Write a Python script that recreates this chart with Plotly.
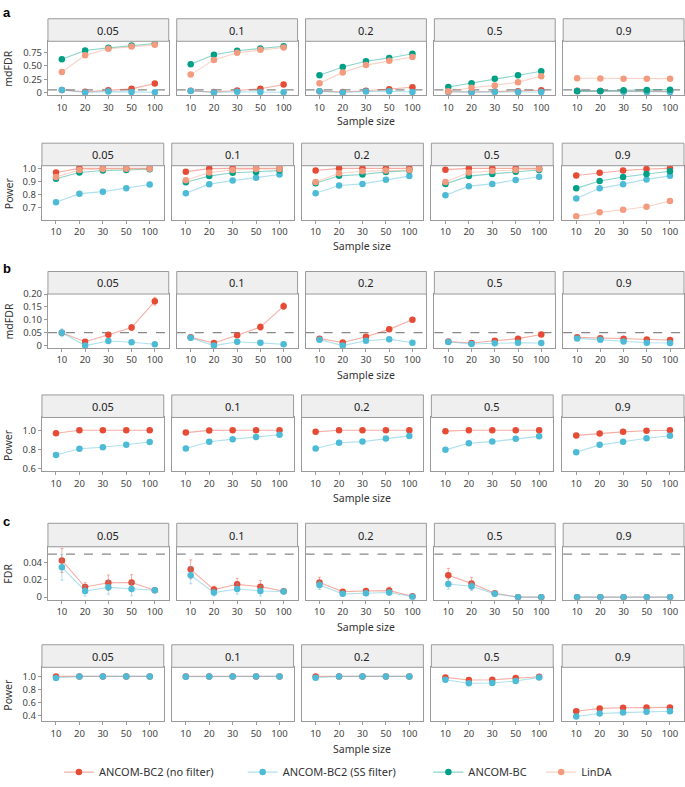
import plotly.graph_objects as go

W, H = 685, 787

SAMPLE_SIZES = ["10", "20", "30", "50", "100"]
PREVALENCE = ["0.05", "0.1", "0.2", "0.5", "0.9"]

METHODS = ["ANCOM-BC2 (no filter)", "ANCOM-BC2 (SS filter)", "ANCOM-BC", "LinDA"]
COLORS = {"ANCOM-BC2 (no filter)": "230,75,53", "ANCOM-BC2 (SS filter)": "77,187,213",
          "ANCOM-BC": "0,160,135", "LinDA": "243,155,127"}

# ---- panel a: mdFDR ----
A_MDFDR_NOFILTER = [[0.050, 0.015, 0.042, 0.070, 0.172],
                    [0.032, 0.010, 0.040, 0.072, 0.153],
                    [0.027, 0.012, 0.034, 0.063, 0.100],
                    [0.016, 0.010, 0.019, 0.027, 0.043],
                    [0.032, 0.029, 0.027, 0.024, 0.022]]
A_MDFDR_SS = [[0.050, 0.000, 0.018, 0.013, 0.005],
              [0.030, 0.000, 0.015, 0.011, 0.005],
              [0.023, 0.000, 0.019, 0.025, 0.011],
              [0.014, 0.006, 0.009, 0.011, 0.010],
              [0.028, 0.023, 0.016, 0.011, 0.010]]
A_MDFDR_ANCOMBC = [[0.627, 0.793, 0.842, 0.885, 0.922],
                   [0.535, 0.713, 0.787, 0.830, 0.873],
                   [0.325, 0.480, 0.590, 0.652, 0.730],
                   [0.104, 0.177, 0.258, 0.325, 0.400],
                   [0.025, 0.028, 0.045, 0.050, 0.055]]
A_MDFDR_LINDA = [[0.387, 0.700, 0.824, 0.867, 0.898],
                 [0.338, 0.615, 0.750, 0.805, 0.848],
                 [0.177, 0.380, 0.517, 0.600, 0.670],
                 [0.024, 0.092, 0.135, 0.196, 0.307],
                 [0.270, 0.265, 0.262, 0.262, 0.262]]

# ---- panel a: power ----
A_POWER_NOFILTER = [[0.968, 1.000, 1.000, 1.000, 1.000],
                    [0.975, 0.998, 1.000, 1.000, 1.000],
                    [0.983, 1.000, 1.000, 1.000, 1.000],
                    [0.990, 1.000, 1.000, 1.000, 1.000],
                    [0.946, 0.966, 0.983, 0.995, 1.000]]
A_POWER_SS = [[0.742, 0.808, 0.823, 0.848, 0.877],
              [0.811, 0.880, 0.907, 0.929, 0.953],
              [0.811, 0.870, 0.882, 0.914, 0.941],
              [0.796, 0.865, 0.882, 0.912, 0.936],
              [0.771, 0.848, 0.880, 0.916, 0.943]]
A_POWER_ANCOMBC = [[0.921, 0.968, 0.983, 0.988, 0.993],
                   [0.894, 0.941, 0.966, 0.973, 0.983],
                   [0.887, 0.943, 0.953, 0.973, 0.983],
                   [0.882, 0.941, 0.958, 0.975, 0.988],
                   [0.848, 0.904, 0.934, 0.958, 0.978]]
A_POWER_LINDA = [[0.934, 0.988, 0.995, 0.997, 0.997],
                 [0.909, 0.968, 0.988, 0.995, 0.995],
                 [0.897, 0.963, 0.978, 0.983, 0.988],
                 [0.897, 0.968, 0.980, 0.988, 0.995],
                 [0.636, 0.666, 0.686, 0.708, 0.752]]

# ---- panel b ----
B_MDFDR_NOFILTER = A_MDFDR_NOFILTER
B_MDFDR_SS = A_MDFDR_SS
B_MDFDR_NOFILTER_ERR = [[0.008, 0.004, 0.008, 0.012, 0.015],
                        [0.006, 0.004, 0.007, 0.012, 0.013],
                        [0.005, 0.004, 0.006, 0.008, 0.008],
                        [0.004, 0.003, 0.004, 0.004, 0.005],
                        [0.004, 0.004, 0.004, 0.004, 0.004]]
B_MDFDR_SS_ERR = [[0.015, 0.002, 0.005, 0.004, 0.003],
                  [0.008, 0.002, 0.004, 0.004, 0.003],
                  [0.005, 0.002, 0.004, 0.004, 0.003],
                  [0.004, 0.002, 0.003, 0.003, 0.003],
                  [0.004, 0.004, 0.004, 0.003, 0.003]]
B_POWER_NOFILTER = A_POWER_NOFILTER
B_POWER_SS = A_POWER_SS

# ---- panel c ----
C_FDR_NOFILTER = [[0.0427, 0.0118, 0.0168, 0.0171, 0.0080],
                  [0.0324, 0.0088, 0.0149, 0.0122, 0.0068],
                  [0.0171, 0.0064, 0.0072, 0.0076, 0.0011],
                  [0.0255, 0.0160, 0.0045, 0.0000, 0.0000],
                  [0.0, 0.0, 0.0, 0.0, 0.0]]
C_FDR_SS = [[0.0347, 0.0072, 0.0114, 0.0095, 0.0080],
            [0.0255, 0.0053, 0.0095, 0.0072, 0.0065],
            [0.0140, 0.0038, 0.0045, 0.0053, 0.0004],
            [0.0152, 0.0126, 0.0038, 0.0000, 0.0000],
            [0.0, 0.0, 0.0, 0.0, 0.0]]
C_FDR_NOFILTER_ERR = [[0.014, 0.005, 0.009, 0.009, 0.002],
                      [0.011, 0.004, 0.007, 0.007, 0.002],
                      [0.006, 0.002, 0.003, 0.004, 0.001],
                      [0.008, 0.007, 0.002, 0.0, 0.0],
                      [0.0, 0.0, 0.0, 0.0, 0.0]]
C_FDR_SS_ERR = [[0.015, 0.006, 0.008, 0.008, 0.002],
                [0.010, 0.004, 0.006, 0.006, 0.002],
                [0.005, 0.002, 0.003, 0.003, 0.001],
                [0.006, 0.005, 0.002, 0.0, 0.0],
                [0.0, 0.0, 0.0, 0.0, 0.0]]
C_POWER_NOFILTER = [[1.0, 1.0, 1.0, 1.0, 1.0],
                    [1.0, 1.0, 1.0, 1.0, 1.0],
                    [1.0, 1.0, 1.0, 1.0, 1.0],
                    [0.985, 0.945, 0.950, 0.975, 0.994],
                    [0.470, 0.514, 0.524, 0.529, 0.529]]
C_POWER_SS = [[0.975, 1.0, 1.0, 1.0, 1.0],
              [0.995, 1.0, 1.0, 1.0, 1.0],
              [0.980, 1.0, 1.0, 1.0, 1.0],
              [0.950, 0.896, 0.900, 0.930, 0.985],
              [0.391, 0.436, 0.450, 0.465, 0.470]]

WIDE_LEFTS = [48, 177, 306, 435, 564]
NARROW_LEFTS = [42, 172, 302, 432, 563]

ROWS = [
    dict(top=12, sb=35, bot=90, lefts=WIDE_LEFTS, width=121, yrange=[-0.049, 0.965],
         tv=[0, 0.25, 0.5, 0.75], tt=["0", "0.25", "0.50", "0.75"], title="mdFDR", dashed=True, xl=116,
         series=[("ANCOM-BC2 (no filter)", A_MDFDR_NOFILTER, None), ("ANCOM-BC2 (SS filter)", A_MDFDR_SS, None),
                 ("ANCOM-BC", A_MDFDR_ANCOMBC, None), ("LinDA", A_MDFDR_LINDA, None)]),
    dict(top=139, sb=162, bot=217, lefts=NARROW_LEFTS, width=122, yrange=[0.611, 1.02],
         tv=[0.7, 0.8, 0.9, 1.0], tt=["0.7", "0.8", "0.9", "1.0"], title="Power", dashed=False, xl=244,
         series=[("ANCOM-BC2 (no filter)", A_POWER_NOFILTER, None), ("ANCOM-BC2 (SS filter)", A_POWER_SS, None),
                 ("ANCOM-BC", A_POWER_ANCOMBC, None), ("LinDA", A_POWER_LINDA, None)]),
    dict(top=270, sb=293, bot=348, lefts=WIDE_LEFTS, width=121, yrange=[-0.009, 0.2],
         tv=[0, 0.05, 0.1, 0.15, 0.2], tt=["0", "0.05", "0.10", "0.15", "0.20"], title="mdFDR", dashed=True, xl=376,
         series=[("ANCOM-BC2 (no filter)", B_MDFDR_NOFILTER, B_MDFDR_NOFILTER_ERR),
                 ("ANCOM-BC2 (SS filter)", B_MDFDR_SS, B_MDFDR_SS_ERR)]),
    dict(top=396, sb=419, bot=474, lefts=NARROW_LEFTS, width=122, yrange=[0.573, 1.132],
         tv=[0.6, 0.8, 1.0], tt=["0.6", "0.8", "1.0"], title="Power", dashed=False, xl=501,
         series=[("ANCOM-BC2 (no filter)", B_POWER_NOFILTER, None), ("ANCOM-BC2 (SS filter)", B_POWER_SS, None)]),
    dict(top=527, sb=551, bot=605, lefts=WIDE_LEFTS, width=121, yrange=[-0.003, 0.0586],
         tv=[0, 0.02, 0.04], tt=["0", "0.02", "0.04"], title="FDR", dashed=True, xl=633,
         series=[("ANCOM-BC2 (no filter)", C_FDR_NOFILTER, C_FDR_NOFILTER_ERR),
                 ("ANCOM-BC2 (SS filter)", C_FDR_SS, C_FDR_SS_ERR)]),
    dict(top=651, sb=674, bot=729, lefts=NARROW_LEFTS, width=122, yrange=[0.32, 1.138],
         tv=[0.4, 0.6, 0.8, 1.0], tt=["0.4", "0.6", "0.8", "1.0"], title="Power", dashed=False, xl=757,
         series=[("ANCOM-BC2 (no filter)", C_POWER_NOFILTER, None), ("ANCOM-BC2 (SS filter)", C_POWER_SS, None)]),
]

FONT = "Noto Sans"
TXT = "#333333"
BORDER = "#9a9a9a"

fig = go.Figure()
layout = dict(width=W, height=H, margin=dict(l=0, r=0, t=0, b=0), paper_bgcolor="white",
              plot_bgcolor="white", font=dict(family=FONT, size=10, color=TXT), showlegend=True)
shapes, annotations = [], []
legend_done = set()
legend_ids = {m: ("legend" if i == 0 else f"legend{i+1}") for i, m in enumerate(METHODS)}


def fx(p):
    return p / W


def fy(p):
    return 1 - p / H


n = 0
for r, row in enumerate(ROWS):
    for c in range(5):
        n += 1
        x0 = row["lefts"][c]
        x1 = x0 + row["width"]
        xa = "xaxis" if n == 1 else f"xaxis{n}"
        ya = "yaxis" if n == 1 else f"yaxis{n}"
        xr = "x" if n == 1 else f"x{n}"
        yr = "y" if n == 1 else f"y{n}"
        layout[xa] = dict(domain=[fx(x0), fx(min(x1, W))], anchor=yr, type="category",
                          categoryorder="array", categoryarray=SAMPLE_SIZES, range=[-0.6, 4.6],
                          showline=True, mirror=True, linecolor=BORDER, linewidth=1,
                          ticks="outside", ticklen=3, tickcolor=BORDER, showgrid=False, zeroline=False,
                          tickfont=dict(size=9.5, color="#444"), fixedrange=True)
        layout[ya] = dict(domain=[fy(row["bot"]), fy(row["sb"])], anchor=xr, range=row["yrange"],
                          showline=True, mirror=True, linecolor=BORDER, linewidth=1,
                          tickvals=row["tv"], ticktext=row["tt"],
                          ticks="outside" if c == 0 else "", ticklen=3, tickcolor=BORDER,
                          showticklabels=(c == 0), showgrid=False, zeroline=False,
                          tickfont=dict(size=9.5, color="#444"), fixedrange=True)
        # strip
        shapes.append(dict(type="rect", xref="paper", yref="paper", x0=fx(x0), x1=fx(x1),
                           y0=fy(row["sb"]), y1=fy(row["top"]), fillcolor="#efefef",
                           line=dict(color=BORDER, width=1), layer="above"))
        annotations.append(dict(text=PREVALENCE[c], xref="paper", yref="paper",
                                x=fx((x0 + min(x1, W)) / 2), y=fy((row["top"] + row["sb"]) / 2),
                                showarrow=False, xanchor="center", yanchor="middle",
                                font=dict(size=11, color="#222")))
        if row["dashed"]:
            shapes.append(dict(type="line", xref=f"{xr} domain", yref=yr, x0=0, x1=1, y0=0.05, y1=0.05,
                               line=dict(color="#888", width=1.3, dash="dash"), layer="below"))
        for name, vals, errs in row["series"]:
            rgb = COLORS[name]
            tr = dict(x=SAMPLE_SIZES, y=vals[c], mode="lines+markers", name=name,
                      xaxis=xr, yaxis=yr,
                      line=dict(color=f"rgba({rgb},0.45)", width=1.1),
                      marker=dict(color=f"rgb({rgb})", size=6.5),
                      legend=legend_ids[name],
                      showlegend=name not in legend_done, hoverinfo="skip")
            if errs is not None:
                tr["error_y"] = dict(type="data", array=errs[c], visible=True,
                                     color=f"rgba({rgb},0.45)", thickness=1, width=1.5)
            legend_done.add(name)
            fig.add_trace(go.Scatter(**tr))
    # axis titles
    annotations.append(dict(text="Sample size", xref="paper", yref="paper",
                            x=fx(row["lefts"][2] + row["width"] / 2), y=fy(row["xl"]),
                            showarrow=False, xanchor="center", yanchor="middle",
                            font=dict(size=10.5, color=TXT)))
    annotations.append(dict(text=row["title"], xref="paper", yref="paper", x=fx(8.5),
                            y=fy((row["sb"] + row["bot"]) / 2), textangle=-90, showarrow=False,
                            xanchor="center", yanchor="middle", font=dict(size=10.5, color=TXT)))

for lab, yy in [("a", 6), ("b", 267), ("c", 525)]:
    annotations.append(dict(text=f"<b>{lab}</b>", xref="paper", yref="paper", x=fx(1), y=fy(yy),
                            showarrow=False, xanchor="left", yanchor="middle",
                            font=dict(size=13, color="#000", family="Liberation Sans")))

LEG_X = [59, 243, 429, 542]
for i, m in enumerate(METHODS):
    key = "legend" if i == 0 else f"legend{i+1}"
    layout[key] = dict(x=fx(LEG_X[i]), y=fy(781), xanchor="left", yanchor="middle",
                       orientation="h", bgcolor="rgba(0,0,0,0)", borderwidth=0,
                       font=dict(size=11, color=TXT), itemwidth=30, tracegroupgap=0)

layout["shapes"] = shapes
layout["annotations"] = annotations
fig.update_layout(**layout)
fig.write_html("out.html", config={"displayModeBar": False},
               post_script="document.body.style.margin='0';document.body.style.padding='0';"
                           "document.body.style.overflow='hidden';")
